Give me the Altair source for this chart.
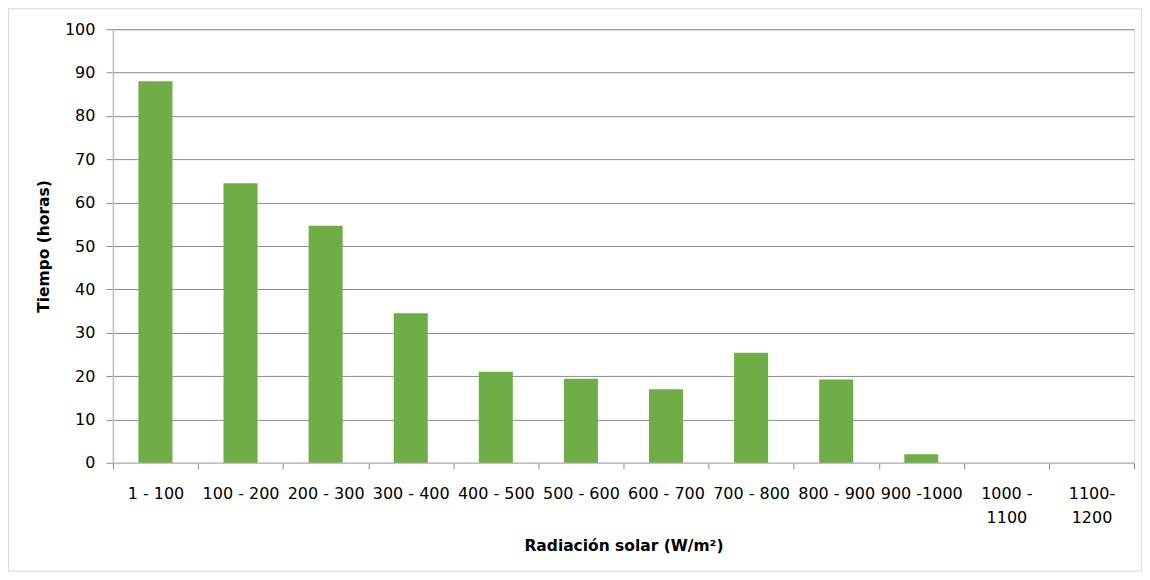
import altair as alt
import pandas as pd

categories = ["1 - 100", "100 - 200", "200 - 300", "300 - 400", "400 - 500",
              "500 - 600", "600 - 700", "700 - 800", "800 - 900", "900 -1000",
              "1000 -\n1100", "1100-\n1200"]
horas = [88.0, 64.5, 54.7, 34.5, 21.0, 19.4, 17.0, 25.4, 19.2, 2.0, 0.0, 0.0]
y_ticks = [0, 10, 20, 30, 40, 50, 60, 70, 80, 90, 100]

df = pd.DataFrame({"rango": categories, "horas": horas})

FONT = "DejaVu Sans"
W, H = 1022, 434

bars = alt.Chart(df).mark_bar(color="#70AD47", width=alt.RelativeBandSize(0.4)).encode(
    x=alt.X("rango:N", sort=categories,
            scale=alt.Scale(paddingInner=0, paddingOuter=0),
            axis=alt.Axis(title="Radiación solar (W/m²)", labelAngle=0,
                          labelExpr="split(datum.label, '\\n')",
                          labelFont=FONT, labelFontSize=16, labelColor="#000000",
                          labelPadding=17, labelLineHeight=24,
                          tickBand="extent", tickSize=6, tickColor="#8C8C8C",
                          domainColor="#BFBFBF", domainWidth=1.5, grid=False,
                          titleFont=FONT, titleFontSize=15.5, titleFontWeight="bold",
                          titleColor="#000000", titlePadding=13)),
    y=alt.Y("horas:Q", scale=alt.Scale(domain=[0, 100], nice=False),
            axis=alt.Axis(title="Tiempo (horas)", values=y_ticks,
                          labelFont=FONT, labelFontSize=16, labelColor="#000000",
                          labelPadding=11, tickSize=7, tickColor="#8C8C8C",
                          domainColor="#BFBFBF", domainWidth=1.5,
                          grid=True, gridColor="#8C8C8C", gridWidth=1,
                          titleFont=FONT, titleFontSize=15.5, titleFontWeight="bold",
                          titleColor="#000000", titlePadding=13)),
)

frame = alt.Chart(alt.Data(values=[{}])).mark_rect(
    fill="transparent", stroke="#D9D9D9", strokeWidth=1
).encode(
    x=alt.value(-104.5), x2=alt.value(W + 7.5),
    y=alt.value(-20.5), y2=alt.value(H + 108.5),
)

chart = alt.layer(frame, bars).properties(
    width=W, height=H,
    autosize=alt.AutoSizeParams(type="none"),
    padding={"left": 105, "top": 21, "right": 8, "bottom": 109},
).configure_view(stroke=None).configure(background="white")

chart.save("out.html", embed_options={"renderer": "svg", "actions": False})
